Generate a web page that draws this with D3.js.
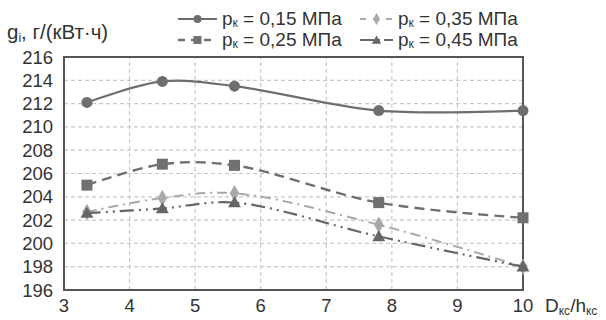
<!DOCTYPE html>
<html>
<head>
<meta charset="utf-8">
<script src="https://cdn.jsdelivr.net/npm/d3@7"></script>
<style>
  body { margin: 0; background: #fff; }
  text { font-family: "Liberation Sans", Arial, sans-serif; fill: #333; }
</style>
</head>
<body>
<svg id="chart" width="606" height="320"></svg>
<script>
// values
const ratio = [3.35, 4.5, 5.6, 7.8, 10]
const p015 = [212.1, 213.9, 213.5, 211.4, 211.4]
const p025 = [205.0, 206.8, 206.7, 203.5, 202.2]
const p035 = [202.7, 203.9, 204.3, 201.6, 198.0]
const p045 = [202.6, 203.0, 203.5, 200.6, 198.0]
const seriesNames = ['pк = 0,15 МПа', 'pк = 0,25 МПа', 'pк = 0,35 МПа', 'pк = 0,45 МПа']
const xTicks = [3, 4, 5, 6, 7, 8, 9, 10]
const yTicks = [196, 198, 200, 202, 204, 206, 208, 210, 212, 214, 216]

const svg = d3.select('#chart')
const margin = { left: 64, right: 83, top: 57, bottom: 30 }
const W = 606, H = 320

const x = d3.scaleLinear().domain([3, 10]).range([margin.left, W - margin.right])
const y = d3.scaleLinear().domain([196, 216]).range([H - margin.bottom, margin.top])

// styles per series
const styles = [
  { color: '#6e6e6e', dash: null, width: 2.2, marker: 'circle' },
  { color: '#707070', dash: '10,6', width: 2.4, marker: 'square' },
  { color: '#a9a9a9', dash: '10,5,2,5', width: 2, marker: 'diamond' },
  { color: '#666666', dash: '14,5,2,5,2,5', width: 2.2, marker: 'triangle' }
]
const series = [p015, p025, p035, p045]

// grid
svg.append('g').selectAll('line')
  .data(yTicks.slice(1, -1))
  .enter().append('line')
  .attr('x1', x(3)).attr('x2', x(10))
  .attr('y1', d => y(d)).attr('y2', d => y(d))
  .attr('stroke', '#c8c8c8').attr('stroke-width', 1.2).attr('stroke-dasharray', '4,3')

svg.append('g').selectAll('line')
  .data(xTicks.slice(1, -1))
  .enter().append('line')
  .attr('x1', d => x(d)).attr('x2', d => x(d))
  .attr('y1', y(196)).attr('y2', y(216))
  .attr('stroke', '#c8c8c8').attr('stroke-width', 1.2).attr('stroke-dasharray', '4,3')

// frame
svg.append('rect')
  .attr('x', x(3)).attr('y', y(216))
  .attr('width', x(10) - x(3)).attr('height', y(196) - y(216))
  .attr('fill', 'none').attr('stroke', '#555').attr('stroke-width', 2)

// tick labels
svg.append('g').selectAll('text')
  .data(yTicks)
  .enter().append('text')
  .attr('x', x(3) - 11).attr('y', d => y(d) + 6.5)
  .attr('text-anchor', 'end').attr('font-size', 18.5)
  .text(d => d)

svg.append('g').selectAll('text')
  .data(xTicks)
  .enter().append('text')
  .attr('x', d => x(d)).attr('y', H - 8)
  .attr('text-anchor', 'middle').attr('font-size', 18.5)
  .text(d => d)

// axis titles
const yt = svg.append('text').attr('x', 7).attr('y', 39).attr('font-size', 20.5)
yt.append('tspan').text('g')
yt.append('tspan').attr('font-size', 12).attr('dy', 3).text('i')
yt.append('tspan').attr('dy', -3).text(', г/(кВт·ч)')

const xt = svg.append('text').attr('x', 545).attr('y', H - 8).attr('font-size', 19)
xt.append('tspan').text('D')
xt.append('tspan').attr('font-size', 12).attr('dy', 3).text('кс')
xt.append('tspan').attr('dy', -3).text('/h')
xt.append('tspan').attr('font-size', 12).attr('dy', 3).text('кс')

// lines
const line = d3.line()
  .x((d, i) => x(ratio[i]))
  .y(d => y(d))
  .curve(d3.curveCatmullRom.alpha(0.5))

function drawMarker (g, type, cx, cy, color, s) {
  if (type === 'circle') {
    g.append('circle').attr('cx', cx).attr('cy', cy).attr('r', s).attr('fill', color)
  } else if (type === 'square') {
    g.append('rect').attr('x', cx - s).attr('y', cy - s).attr('width', 2 * s).attr('height', 2 * s).attr('fill', color)
  } else if (type === 'diamond') {
    g.append('path').attr('d', d3.symbol(d3.symbolDiamond, s * s * 2.6)()).attr('transform', `translate(${cx},${cy})`).attr('fill', color)
  } else {
    g.append('path').attr('d', d3.symbol(d3.symbolTriangle, s * s * 2.4)()).attr('transform', `translate(${cx},${cy + 1})`).attr('fill', color)
  }
}

series.forEach(function (vals, k) {
  const st = styles[k]
  const g = svg.append('g')
  g.append('path')
    .attr('d', line(vals))
    .attr('fill', 'none')
    .attr('stroke', st.color)
    .attr('stroke-width', st.width)
    .attr('stroke-dasharray', st.dash)
  vals.forEach(function (v, i) {
    drawMarker(g, st.marker, x(ratio[i]), y(v), st.color, 5.5)
  })
})

// legend
const legendPos = [[178, 25], [178, 46], [360, 25], [360, 46]]
seriesNames.forEach(function (name, k) {
  const st = styles[k]
  const [lx, ly] = legendPos[k]
  const len = k < 2 ? 39 : 33
  const g = svg.append('g')
  g.append('line')
    .attr('x1', lx).attr('x2', lx + len)
    .attr('y1', ly - 6).attr('y2', ly - 6)
    .attr('stroke', st.color).attr('stroke-width', st.width)
    .attr('stroke-dasharray', k === 0 ? null : (k === 1 ? '7,6' : (k === 2 ? '6,7' : '14,4,2,4')))
  drawMarker(g, st.marker, lx + len / 2, ly - 6, st.color, 4)
  const t = g.append('text').attr('x', lx + len + 5).attr('y', ly).attr('font-size', 19)
  t.append('tspan').text('p')
  t.append('tspan').attr('font-size', 12).attr('dy', 2).text('к')
  t.append('tspan').attr('dy', -2).text(name.slice(2))
})
</script>
</body>
</html>
